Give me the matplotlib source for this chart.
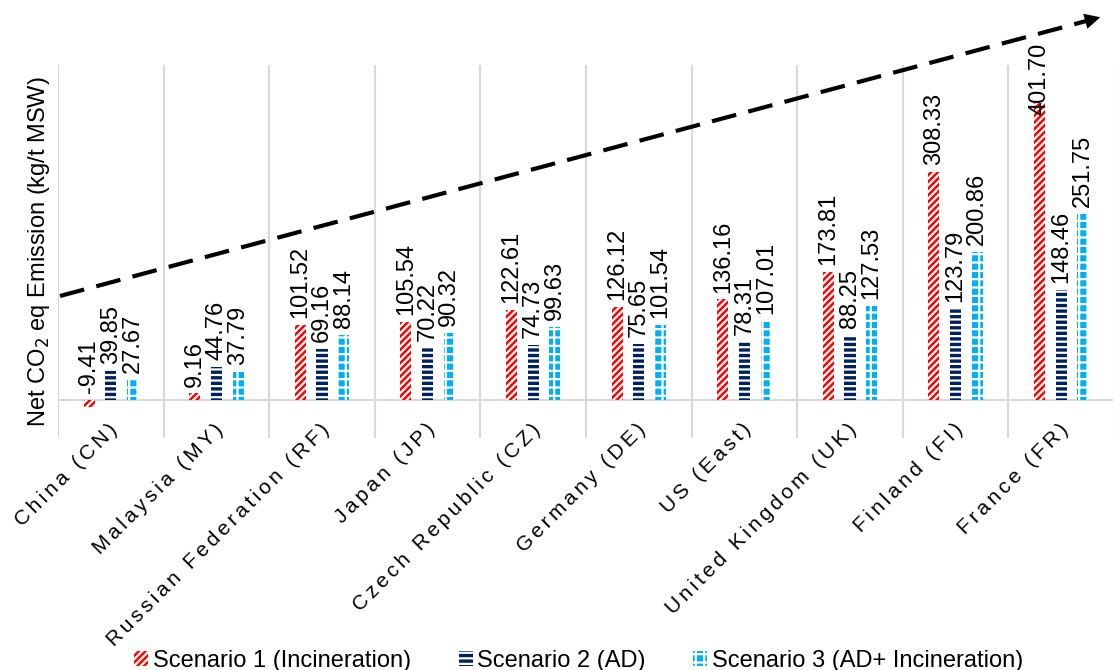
import numpy as np
import matplotlib

matplotlib.use('Agg')
import matplotlib.pyplot as plt
from matplotlib.lines import Line2D

plt.rcParams['font.family'] = ['Liberation Sans', 'DejaVu Sans']
plt.rcParams['hatch.linewidth'] = 1.6

countries = ['China (CN)', 'Malaysia (MY)', 'Russian Federation (RF)', 'Japan (JP)',
             'Czech Republic (CZ)', 'Germany (DE)', 'US (East)', 'United Kingdom (UK)',
             'Finland (FI)', 'France (FR)']
scenario1 = [-9.41, 9.16, 101.52, 105.54, 122.61, 126.12, 136.16, 173.81, 308.33, 401.70]
scenario2 = [39.85, 44.76, 69.16, 70.22, 74.73, 75.65, 78.31, 88.25, 123.79, 148.46]
scenario3 = [27.67, 37.79, 88.14, 90.32, 99.63, 101.54, 107.01, 127.53, 200.86, 251.75]
series_names = ['Scenario 1 (Incineration)', 'Scenario 2 (AD)', 'Scenario 3 (AD+ Incineration)']

W, H = 1113, 670
fig = plt.figure(figsize=(W / 100, H / 100), dpi=100)
ax = fig.add_axes([58 / W, 1 - 438 / H, (1114 - 58) / W, (438 - 65) / H])

x = np.arange(len(countries))
width = 0.105
step = 0.205
styles = [
    dict(facecolor='#FF0000', edgecolor='white', hatch='/////'),
    dict(facecolor='#002060', edgecolor='white', hatch='---'),
    dict(facecolor='#00B0F0', edgecolor='white', hatch='++'),
]
handles = []
for i, (vals, st) in enumerate(zip([scenario1, scenario2, scenario3], styles)):
    pos = x + (i - 1) * step
    bars = ax.bar(pos, vals, width, linewidth=0, label=series_names[i], **st)
    handles.append(bars)
    for px, v in zip(pos, vals):
        # the tallest label is pushed down into the bar, like the original
        off = 5 if v < 380 else -9
        ax.annotate('{:.2f}'.format(v), xy=(px, max(v, 0)), xytext=(0, off),
                    textcoords='offset points', rotation=90, ha='center', va='bottom',
                    fontsize=17, annotation_clip=False)

ax.set_xlim(-0.5, len(countries) - 0.5)
ax.set_ylim(-51, 453)
ax.axhline(0, color='#D9D9D9', linewidth=1.5, zorder=0)
for b in np.arange(-0.5, len(countries), 1.0):
    ax.axvline(b, color='#D9D9D9', linewidth=1.5, zorder=0)
for s in ax.spines.values():
    s.set_visible(False)
ax.set_yticks([])
ax.set_xticks(x + 0.04)
# category labels in the original are letter-spaced
spaced = ['\u2006'.join(c) for c in countries]
ax.set_xticklabels(spaced, rotation=45, ha='right', va='center',
                   rotation_mode='anchor', fontsize=15)
ax.tick_params(axis='x', length=0, pad=-8)
ax.set_ylabel('Net CO$_2$ eq Emission (kg/t MSW)', fontsize=17, labelpad=4)

# dashed trend arrow across the chart
x0, y0, x1, y1 = 60, 296, 1090, 20
fig.add_artist(Line2D([x0 / W, x1 / W], [1 - y0 / H, 1 - y1 / H], transform=fig.transFigure,
                      color='black', linewidth=3, linestyle=(0, (6, 3))))
fig.add_artist(matplotlib.patches.FancyArrowPatch(
    (1080 / W, 1 - 22.7 / H), (1103 / W, 1 - 16.5 / H), transform=fig.transFigure,
    arrowstyle='-|>', mutation_scale=28, color='black', linewidth=0))

fig.legend(handles=handles, loc='lower center', bbox_to_anchor=(0.52, -0.035), ncol=3,
           frameon=False, fontsize=17, handlelength=0.6, handleheight=0.6,
           handletextpad=0.2, columnspacing=2.0)

fig.savefig('out.png', dpi=100)
